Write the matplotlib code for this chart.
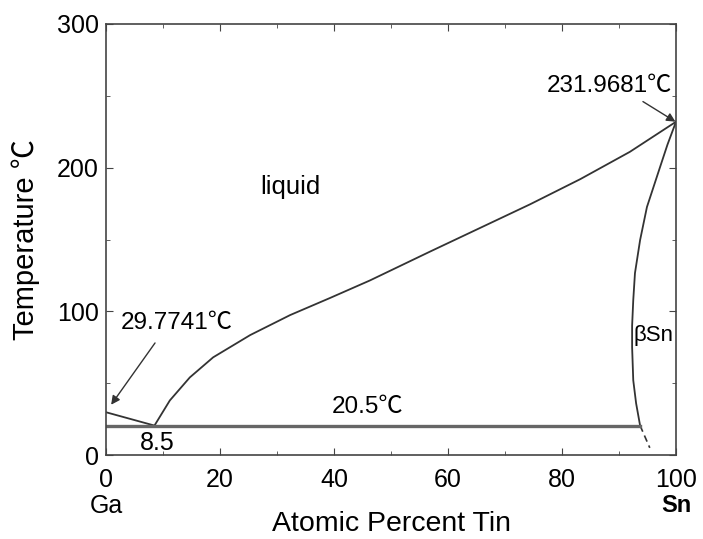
import matplotlib.pyplot as plt
from matplotlib.ticker import MultipleLocator

plt.rcParams['font.family'] = ['Liberation Sans', 'Noto Sans CJK SC', 'DejaVu Sans']

# liquidus (at.% Sn, deg C)
liq_x = [8.5, 11.2, 14.7, 18.8, 25.3, 32.3, 39.3, 46.3, 56.8, 65.6, 74.4, 83.2, 91.9, 100]
liq_y = [20.5, 38, 54, 68, 83.5, 97.4, 109.3, 121.5, 141.5, 158, 174.5, 192, 211, 231.9681]
# Ga side liquidus
ga_x = [0, 8.5]
ga_y = [29.7741, 20.5]
# Sn solvus (solid line, then dashed extrapolation)
sol_x = [100, 98.5, 97.2, 94.9, 93.7, 92.8, 92.5, 92.3, 92.3, 92.5, 93.0, 93.7]
sol_y = [231.9681, 216, 200.4, 172.6, 149.6, 126.6, 107.8, 90, 75, 52, 36, 20.5]
sol_dash_x = [93.7, 95.4]
sol_dash_y = [20.5, 5]
eut_x = [0, 93.7]
eut_y = [20.5, 20.5]

fig = plt.figure(figsize=(7.03, 5.39), dpi=100)
ax = fig.add_axes([0.1508, 0.1558, 0.8108, 0.7997])

lc = '#333333'
ax.plot(liq_x, liq_y, color=lc, lw=1.3)
ax.plot(ga_x, ga_y, color=lc, lw=1.3)
ax.plot(sol_x, sol_y, color=lc, lw=1.3)
ax.plot(sol_dash_x, sol_dash_y, color=lc, lw=1.2, ls=(0, (4, 2.5)))
ax.plot(eut_x, eut_y, color='#666666', lw=2.4)

ax.set_xlim(0, 100)
ax.set_ylim(0, 300)
ax.xaxis.set_major_locator(MultipleLocator(20))
ax.xaxis.set_minor_locator(MultipleLocator(10))
ax.yaxis.set_major_locator(MultipleLocator(100))
ax.yaxis.set_minor_locator(MultipleLocator(50))
ax.tick_params(which='both', direction='in', top=True, right=True, labelsize=18,
               color='#444444')
ax.tick_params(axis='x', pad=9)
ax.tick_params(axis='y', pad=5)
ax.tick_params(which='major', length=5)
ax.tick_params(which='minor', length=3)
for s in ax.spines.values():
    s.set_color('#444444')
    s.set_linewidth(1.2)

ax.set_xlabel('Atomic Percent Tin', fontsize=20.5, labelpad=14)
ax.set_ylabel('Temperature ℃', fontsize=21, labelpad=12)

ax.text(0, -0.118, 'Ga', transform=ax.transAxes, ha='center', va='center', fontsize=18)
ax.text(1.0, -0.118, 'Sn', transform=ax.transAxes, ha='center', va='center',
        fontsize=17, fontweight='bold')

ax.text(32.3, 186.5, 'liquid', fontsize=18.5, ha='center', va='center')
ax.text(45.8, 33.4, '20.5℃', fontsize=17.5, ha='center', va='center')
ax.text(9, 8.4, '8.5', fontsize=18, ha='center', va='center')
ax.text(92.6, 83.5, 'βSn', fontsize=16, ha='left', va='center')

ax.text(2.5, 91.9, '29.7741℃', fontsize=17.5, ha='left', va='center')
ax.annotate('', xy=(0.9, 35), xytext=(8.6, 78),
            arrowprops=dict(arrowstyle='-|>', color=lc, lw=1.0, mutation_scale=13,
                            shrinkA=0, shrinkB=0))
ax.text(99.3, 256.8, '231.9681℃', fontsize=17.5, ha='right', va='center')
ax.annotate('', xy=(99.9, 232), xytext=(94.2, 246),
            arrowprops=dict(arrowstyle='-|>', color=lc, lw=1.0, mutation_scale=13,
                            shrinkA=0, shrinkB=0))

fig.savefig('out.png', dpi=100)
